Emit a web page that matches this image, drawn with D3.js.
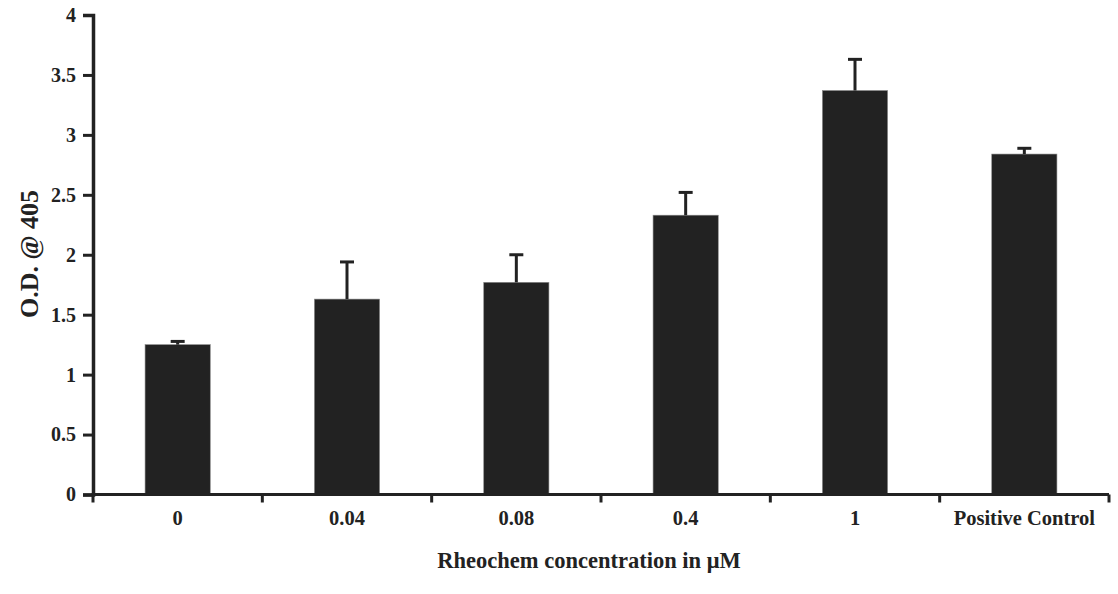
<!DOCTYPE html>
<html>
<head>
<meta charset="utf-8">
<script src="https://cdn.jsdelivr.net/npm/d3@7"></script>
<style>
  body { margin: 0; background: #fff; }
  text { font-family: "Liberation Serif", "Times New Roman", serif; font-weight: bold; fill: #222; }
</style>
</head>
<body>
<div id="chart"></div>
<script>
// values
const categories = ["0", "0.04", "0.08", "0.4", "1", "Positive Control"];
const means = [1.25, 1.63, 1.77, 2.33, 3.37, 2.84];
const errors = [0.027, 0.31, 0.23, 0.19, 0.26, 0.048];
const yTicks = [0, 0.5, 1, 1.5, 2, 2.5, 3, 3.5, 4];

const width = 1118, height = 594;
const margin = { top: 15, right: 9, bottom: 99.5, left: 93 };

const svg = d3.select("#chart").append("svg")
  .attr("width", width)
  .attr("height", height);

const x = d3.scaleBand()
  .domain(categories)
  .range([margin.left, width - margin.right])
  .padding(0);

const y = d3.scaleLinear()
  .domain([0, 4])
  .range([height - margin.bottom, margin.top]);

const barW = x.bandwidth() * 0.385;

// bars
svg.selectAll("rect.bar")
  .data(means)
  .enter().append("rect")
  .attr("class", "bar")
  .attr("x", (d, i) => x(categories[i]) + x.bandwidth() / 2 - barW / 2)
  .attr("y", d => y(d))
  .attr("width", barW)
  .attr("height", d => y(0) - y(d))
  .attr("fill", "#222")
  .attr("stroke", "#888")
  .attr("stroke-width", 0.6);

// error bars (upper only)
const err = svg.selectAll("g.err")
  .data(means)
  .enter().append("g")
  .attr("class", "err")
  .attr("transform", (d, i) => `translate(${x(categories[i]) + x.bandwidth() / 2},0)`);

err.append("line")
  .attr("x1", 0).attr("x2", 0)
  .attr("y1", d => y(d))
  .attr("y2", (d, i) => y(d + errors[i]))
  .attr("stroke", "#222")
  .attr("stroke-width", 3);

err.append("line")
  .attr("x1", -7).attr("x2", 7)
  .attr("y1", (d, i) => y(d + errors[i]))
  .attr("y2", (d, i) => y(d + errors[i]))
  .attr("stroke", "#222")
  .attr("stroke-width", 3);

// y axis
const yAxis = svg.append("g")
  .attr("transform", `translate(${margin.left},0)`)
  .call(d3.axisLeft(y).tickValues(yTicks).tickFormat(d3.format("")).tickSize(10).tickPadding(7));
yAxis.select(".domain").attr("stroke", "#222").attr("stroke-width", 3.5);
yAxis.selectAll(".tick line").attr("stroke", "#222").attr("stroke-width", 3);
yAxis.selectAll(".tick text").attr("font-size", 20).attr("fill", "#222");

// x axis: baseline with tick marks at category boundaries
const xAxis = svg.append("g");
xAxis.append("line")
  .attr("x1", margin.left - 1.5)
  .attr("x2", width - margin.right)
  .attr("y1", y(0)).attr("y2", y(0))
  .attr("stroke", "#222")
  .attr("stroke-width", 3);

const bounds = categories.map(c => x(c)).concat([x.range()[1]]);
xAxis.selectAll("line.bt")
  .data(bounds)
  .enter().append("line")
  .attr("class", "bt")
  .attr("x1", d => d).attr("x2", d => d)
  .attr("y1", y(0)).attr("y2", y(0) + 8)
  .attr("stroke", "#222")
  .attr("stroke-width", 3);

xAxis.selectAll("text.xl")
  .data(categories)
  .enter().append("text")
  .attr("class", "xl")
  .attr("x", d => x(d) + x.bandwidth() / 2)
  .attr("y", y(0) + 30)
  .attr("text-anchor", "middle")
  .attr("font-size", 20.5)
  .text(d => d);

// axis titles
svg.append("text")
  .attr("x", 589)
  .attr("y", 568)
  .attr("text-anchor", "middle")
  .attr("font-size", 22.5)
  .text("Rheochem concentration in \u03bcM");

svg.append("text")
  .attr("transform", "translate(38,254) rotate(-90)")
  .attr("text-anchor", "middle")
  .attr("font-size", 26)
  .text("O.D. @ 405");
</script>
</body>
</html>
